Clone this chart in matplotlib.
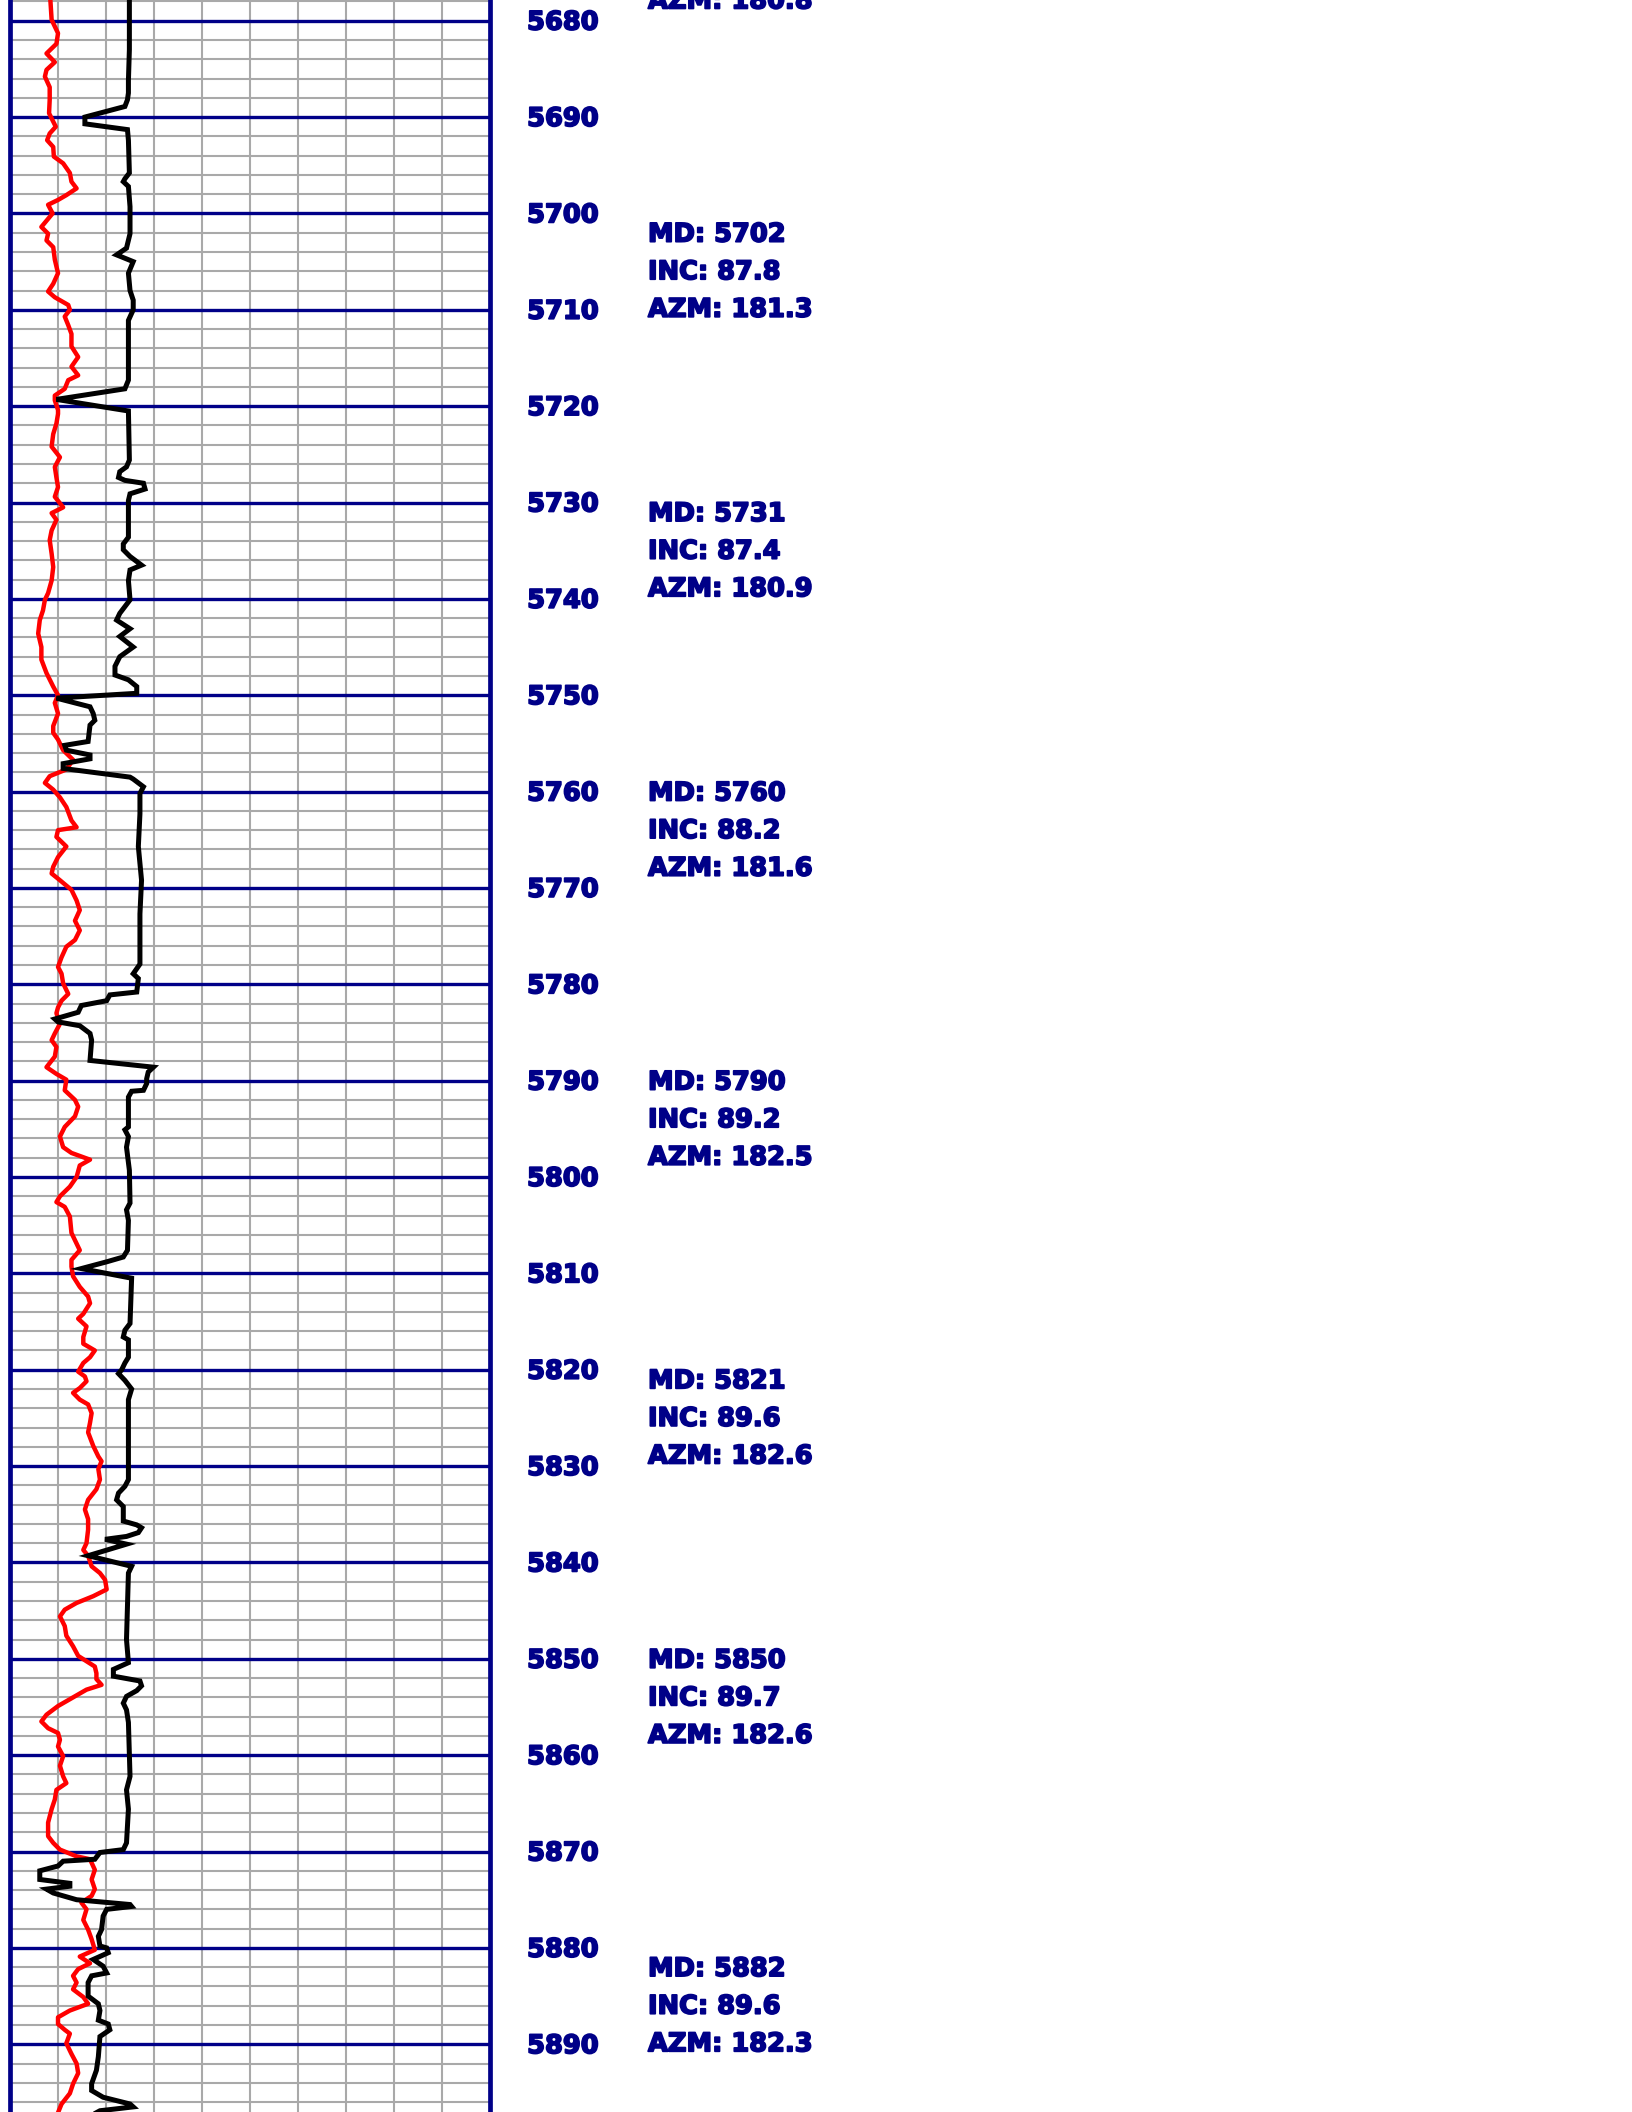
import matplotlib.pyplot as plt
from matplotlib.ticker import MultipleLocator
import matplotlib.transforms as mtransforms
import matplotlib.patheffects as pe

NAVY = "#000088"
GRID_GRAY = "#a9a9a9"

# red curve: depth (ft) / reading on a 0-150 track scale
red_depth = [
    5677.8, 5679.9, 5681.3, 5682.4, 5683.4, 5684.3, 5685.1, 5685.8, 5686.9, 5688.2,
    5689.6, 5691.0, 5691.7, 5692.4, 5693.1, 5694.1, 5694.8, 5695.8, 5696.7, 5697.4,
    5698.1, 5698.6, 5699.1, 5700.0, 5701.4, 5702.1, 5702.8, 5703.5, 5704.8, 5706.2,
    5707.3, 5708.1, 5708.7, 5709.5, 5710.0, 5710.7, 5711.6, 5712.5, 5713.8, 5714.9,
    5715.9, 5716.8, 5717.3, 5718.2, 5718.9, 5719.4, 5720.4, 5720.8, 5721.8, 5722.9,
    5724.2, 5725.3, 5726.3, 5727.4, 5728.4, 5729.4, 5730.5, 5731.1, 5731.8, 5732.9,
    5733.9, 5735.3, 5736.7, 5738.1, 5739.4, 5740.1, 5741.2, 5742.2, 5743.6, 5745.0,
    5746.3, 5747.7, 5749.1, 5750.0, 5750.8, 5751.9, 5753.2, 5753.9, 5754.6, 5755.7,
    5756.7, 5757.7, 5758.4, 5759.1, 5759.8, 5760.6, 5761.6, 5763.0, 5763.7, 5764.0,
    5764.7, 5765.7, 5766.8, 5767.8, 5768.5, 5769.2, 5770.2, 5771.3, 5772.3, 5773.4,
    5774.4, 5775.4, 5776.1, 5777.2, 5778.2, 5778.9, 5779.9, 5781.0, 5781.7, 5782.4,
    5783.0, 5784.1, 5785.1, 5785.8, 5786.5, 5787.5, 5788.6, 5789.3, 5789.9, 5791.0,
    5792.0, 5792.7, 5793.7, 5794.8, 5795.8, 5796.9, 5797.5, 5798.2, 5798.8, 5800.0,
    5801.0, 5802.0, 5802.6, 5803.1, 5804.1, 5805.8, 5806.9, 5807.6, 5808.6, 5809.3,
    5810.3, 5811.4, 5812.4, 5813.1, 5814.2, 5814.7, 5815.5, 5816.6, 5817.3, 5818.0,
    5818.7, 5819.3, 5820.2, 5820.7, 5821.2, 5821.9, 5822.4, 5823.1, 5823.6, 5824.5,
    5825.5, 5826.5, 5827.9, 5829.0, 5829.5, 5830.3, 5831.4, 5832.4, 5833.5, 5834.5,
    5835.5, 5836.6, 5838.0, 5838.7, 5839.3, 5840.4, 5841.1, 5841.8, 5842.8, 5843.5,
    5844.2, 5844.9, 5845.6, 5846.6, 5847.6, 5848.7, 5849.7, 5850.8, 5851.5, 5852.1,
    5852.7, 5853.2, 5854.2, 5854.9, 5855.8, 5856.5, 5857.2, 5857.7, 5858.4, 5859.1,
    5860.1, 5861.1, 5862.2, 5862.9, 5863.6, 5864.6, 5865.6, 5867.0, 5868.4, 5869.1,
    5869.8, 5870.5, 5870.8, 5871.9, 5872.9, 5873.9, 5874.6, 5875.3, 5876.0, 5877.1,
    5878.1, 5879.1, 5880.2, 5880.9, 5881.6, 5882.2, 5882.9, 5883.6, 5884.3, 5885.1,
    5885.8, 5886.5, 5887.2, 5887.9, 5888.5, 5888.9, 5889.9, 5891.0, 5892.0, 5893.0,
    5894.1, 5895.1, 5896.2, 5897.1,
]
red_value = [
    12.7, 13.1, 15.1, 14.6, 11.5, 14.1, 11.5, 11.0, 12.5, 12.5,
    12.3, 14.4, 12.5, 11.7, 13.6, 13.8, 16.7, 18.8, 19.3, 20.9,
    17.7, 15.1, 12.0, 13.4, 9.9, 12.0, 11.5, 13.6, 14.1, 15.1,
    13.6, 12.0, 14.1, 18.3, 18.8, 17.2, 18.3, 19.3, 19.3, 21.4,
    19.3, 21.4, 18.3, 17.2, 14.1, 14.1, 15.1, 15.1, 14.6, 13.6,
    13.1, 15.7, 14.1, 14.6, 15.1, 14.1, 16.7, 13.1, 14.6, 13.1,
    12.5, 13.1, 13.6, 13.1, 12.0, 11.0, 10.4, 9.4, 8.9, 9.9,
    9.9, 11.5, 13.6, 15.1, 14.1, 15.1, 13.6, 13.6, 15.1, 16.7,
    19.8, 17.7, 12.5, 11.0, 13.6, 15.7, 17.7, 19.3, 20.9, 15.1,
    14.6, 17.7, 15.1, 13.6, 13.1, 15.7, 19.3, 20.9, 21.9, 20.4,
    21.9, 20.4, 17.7, 16.2, 15.1, 16.2, 16.7, 18.3, 16.2, 15.1,
    14.6, 15.7, 14.1, 13.1, 14.6, 14.1, 11.5, 14.6, 17.7, 17.2,
    20.4, 21.4, 20.4, 17.2, 15.7, 16.7, 19.3, 25.1, 21.9, 20.9,
    18.8, 15.7, 14.6, 17.2, 18.8, 19.3, 20.9, 21.9, 19.3, 19.3,
    19.8, 21.9, 24.5, 25.1, 23.0, 21.4, 24.0, 23.0, 23.0, 26.6,
    25.1, 23.0, 21.4, 23.5, 24.0, 21.9, 19.8, 21.9, 24.5, 25.6,
    25.1, 24.5, 26.1, 27.7, 28.7, 27.7, 28.2, 27.1, 24.5, 23.5,
    24.5, 24.5, 24.0, 23.0, 24.5, 25.6, 28.2, 29.8, 30.3, 26.1,
    20.9, 17.2, 15.7, 17.2, 17.7, 19.8, 21.4, 26.6, 27.1, 27.1,
    28.7, 24.0, 18.8, 15.1, 11.5, 9.9, 12.0, 15.1, 15.7, 15.1,
    16.7, 15.7, 16.7, 17.7, 14.6, 14.1, 13.1, 12.0, 12.0, 13.6,
    15.7, 20.9, 25.1, 26.6, 25.6, 26.6, 25.6, 22.4, 24.0, 23.0,
    24.5, 25.6, 26.6, 21.9, 25.1, 21.4, 19.8, 20.9, 19.8, 23.0,
    24.5, 18.8, 15.1, 15.1, 17.2, 18.8, 17.7, 19.3, 20.9, 21.4,
    19.8, 18.8, 16.2, 15.1,
]

# black curve: depth (ft) / reading on the same track scale
black_depth = [
    5677.8, 5679.9, 5683.0, 5686.2, 5687.5, 5688.2, 5688.9, 5690.0, 5690.7, 5691.3,
    5692.4, 5695.8, 5696.4, 5696.7, 5697.2, 5699.3, 5702.1, 5703.6, 5704.3, 5705.0,
    5706.2, 5708.0, 5709.0, 5710.0, 5711.1, 5712.5, 5717.3, 5718.2, 5719.3, 5720.5,
    5725.6, 5726.3, 5726.8, 5727.4, 5727.7, 5728.0, 5728.6, 5729.1, 5729.8, 5733.6,
    5734.3, 5734.9, 5735.6, 5736.5, 5737.0, 5738.1, 5740.1, 5740.8, 5741.5, 5742.2,
    5743.1, 5743.9, 5745.0, 5746.0, 5747.0, 5747.9, 5748.4, 5749.1, 5749.8, 5750.3,
    5751.2, 5751.9, 5752.6, 5753.1, 5754.8, 5755.2, 5755.7, 5756.2, 5756.6, 5757.1,
    5757.6, 5758.5, 5758.7, 5759.5, 5760.2, 5762.3, 5765.7, 5769.2, 5772.7, 5776.1,
    5777.9, 5778.9, 5779.4, 5780.8, 5781.1, 5781.7, 5782.2, 5782.9, 5783.6, 5783.9,
    5784.3, 5785.1, 5785.8, 5787.9, 5788.6, 5789.1, 5789.8, 5790.3, 5791.0, 5791.1,
    5791.7, 5794.8, 5795.1, 5795.8, 5796.9, 5799.3, 5802.7, 5803.4, 5804.5, 5807.6,
    5808.3, 5808.8, 5809.5, 5810.2, 5810.5, 5815.2, 5815.9, 5816.6, 5816.9, 5818.7,
    5819.3, 5820.0, 5820.4, 5821.1, 5822.0, 5823.1, 5827.9, 5831.4, 5832.1, 5832.8,
    5833.5, 5834.2, 5835.7, 5836.1, 5836.4, 5836.9, 5837.3, 5837.6, 5838.1, 5839.3,
    5840.4, 5841.1, 5848.0, 5850.4, 5851.1, 5851.8, 5852.3, 5852.8, 5853.3, 5853.9,
    5854.6, 5855.3, 5856.6, 5862.2, 5863.6, 5865.6, 5869.1, 5869.8, 5870.1, 5870.8,
    5871.0, 5871.5, 5872.0, 5872.9, 5873.3, 5873.6, 5873.9, 5874.3, 5875.0, 5875.5,
    5875.7, 5876.0, 5876.7, 5878.1, 5878.8, 5879.8, 5880.0, 5880.5, 5881.2, 5881.9,
    5882.6, 5882.9, 5883.6, 5885.0, 5885.8, 5886.5, 5887.5, 5887.9, 5888.5, 5889.2,
    5891.3, 5892.7, 5894.1, 5894.8, 5895.5, 5896.2, 5896.5, 5896.9, 5897.1,
]
black_value = [
    37.4, 37.4, 37.4, 37.1, 37.1, 36.8, 36.0, 23.5, 23.5, 36.8,
    37.1, 37.4, 36.0, 35.5, 37.1, 37.6, 37.6, 36.5, 33.4, 38.6,
    37.1, 37.6, 38.6, 38.6, 37.1, 37.1, 37.1, 36.0, 14.6, 37.1,
    37.4, 36.5, 34.4, 34.0, 36.0, 41.8, 42.3, 37.6, 37.1, 37.1,
    35.5, 35.5, 37.6, 41.2, 37.6, 37.1, 37.6, 36.0, 34.4, 33.4,
    37.6, 34.4, 38.6, 34.4, 32.9, 32.9, 37.1, 39.7, 39.7, 14.6,
    25.1, 26.1, 26.6, 25.1, 24.5, 17.2, 17.7, 25.1, 25.1, 16.7,
    16.7, 37.6, 38.6, 41.8, 40.7, 40.7, 40.2, 41.2, 40.7, 40.7,
    40.7, 38.6, 40.2, 39.7, 31.3, 30.3, 22.4, 21.4, 14.1, 15.1,
    21.9, 25.1, 25.6, 25.1, 44.9, 43.3, 42.8, 42.8, 41.8, 38.1,
    37.1, 37.1, 36.0, 37.1, 36.5, 37.4, 37.6, 36.5, 37.1, 36.8,
    35.5, 30.3, 22.4, 33.4, 38.1, 37.6, 36.0, 35.5, 37.1, 37.1,
    36.0, 35.0, 34.0, 36.0, 38.1, 37.1, 37.1, 37.1, 36.0, 34.0,
    33.4, 35.5, 35.5, 39.7, 41.2, 40.2, 36.5, 29.8, 36.5, 24.5,
    38.1, 37.1, 36.5, 37.1, 32.4, 32.4, 40.7, 41.2, 39.7, 36.5,
    35.5, 36.5, 37.1, 37.6, 36.5, 37.1, 36.5, 35.5, 28.2, 26.6,
    16.7, 15.1, 9.4, 9.4, 18.8, 18.8, 11.5, 13.6, 20.9, 37.6,
    38.1, 30.3, 29.2, 28.7, 27.7, 28.2, 30.3, 30.8, 26.1, 29.2,
    30.3, 25.6, 24.5, 24.5, 27.7, 28.2, 27.7, 30.8, 31.3, 28.2,
    27.7, 27.1, 25.6, 25.6, 29.2, 37.6, 38.6, 28.2, 27.1,
]

# survey stations; the first block sits mostly above the window
survey_md = [5670, 5702, 5731, 5760, 5790, 5821, 5850, 5882]
survey_inc = [None, 87.8, 87.4, 88.2, 89.2, 89.6, 89.7, 89.6]
survey_azm = [180.8, 181.3, 180.9, 181.6, 182.5, 182.6, 182.6, 182.3]

depth_top, depth_bottom = 5677.85, 5897.03
depth_labels = list(range(5680, 5891, 10))

fig = plt.figure(figsize=(16.32, 21.12), dpi=100)
ax = fig.add_axes([9.7 / 1632, 0, 480 / 1632, 1])
ax.set_xlim(0, 150)
ax.set_ylim(depth_bottom, depth_top)

# track grid
ax.xaxis.set_major_locator(MultipleLocator(15))
ax.yaxis.set_major_locator(MultipleLocator(10))
ax.yaxis.set_minor_locator(MultipleLocator(2))
ax.xaxis.grid(True, which="major", color=GRID_GRAY, lw=1.5)
ax.yaxis.grid(True, which="minor", color=GRID_GRAY, lw=1.5)
ax.yaxis.grid(True, which="major", color=NAVY, lw=2.4)
ax.set_axisbelow(True)
ax.tick_params(which="both", length=0, labelleft=False, labelbottom=False)
for side in ("top", "bottom"):
    ax.spines[side].set_visible(False)
for side in ("left", "right"):
    ax.spines[side].set_color(NAVY)
    ax.spines[side].set_linewidth(3.4)

ax.plot(red_value, red_depth, color="#ff0000", lw=3.2, zorder=3)
ax.plot(black_value, black_depth, color="black", lw=3.6, zorder=4,
        solid_joinstyle="miter")

# text column to the right of the track
trans = mtransforms.blended_transform_factory(ax.transAxes, ax.transData)
heavy = [pe.withStroke(linewidth=1.3, foreground=NAVY)]
font = dict(color=NAVY, fontsize=18.5, fontweight="bold", family="DejaVu Sans",
            path_effects=heavy)
for d in depth_labels:
    ax.text((563 - 9.7) / 480, d + 0.2, str(d), transform=trans,
            ha="center", va="center", clip_on=False, **font)

x_note = (648 - 9.7) / 480
for md, inc, azm in zip(survey_md, survey_inc, survey_azm):
    lines = [f"MD: {md}", None if inc is None else f"INC: {inc:.1f}", f"AZM: {azm:.1f}"]
    for k, line in enumerate(lines):
        if line is None:
            continue
        ax.text(x_note, md + 0.2 + k * 3.9, line, transform=trans,
                ha="left", va="center", clip_on=False, **font)

fig.savefig("out.png", dpi=100)
